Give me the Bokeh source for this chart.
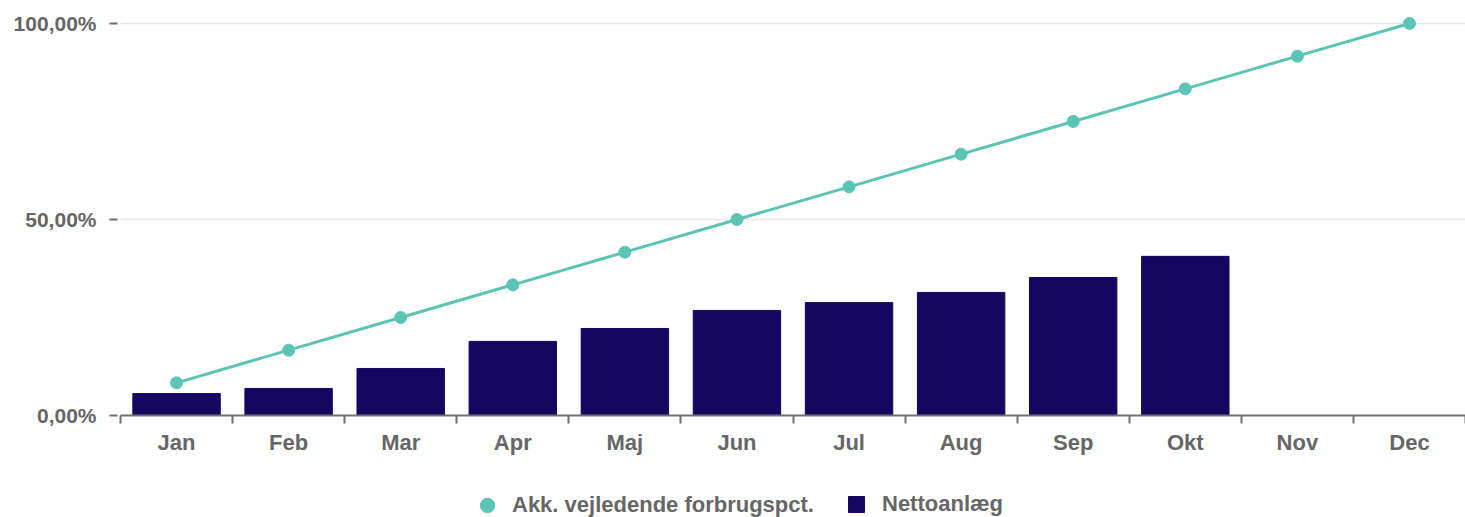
from bokeh.plotting import figure
from bokeh.layouts import column
from bokeh.models import Range1d, FixedTicker, Legend, LegendItem, ColumnDataSource
from bokeh.embed import file_html
from bokeh.resources import INLINE

# ---- data ----
months = ["Jan", "Feb", "Mar", "Apr", "Maj", "Jun", "Jul", "Aug", "Sep", "Okt", "Nov", "Dec"]
akk_pct = [8.33, 16.67, 25.0, 33.33, 41.67, 50.0, 58.33, 66.67, 75.0, 83.33, 91.67, 100.0]
netto = [5.6, 6.9, 12.0, 18.9, 22.2, 26.8, 28.8, 31.4, 35.2, 40.6, None, None]
y_ticks = [0, 50, 100]
y_tick_labels = ["0,00%", "50,00%", "100,00%"]
series_names = ["Akk. vejledende forbrugspct.", "Nettoanlæg"]

FONT = "Liberation Sans"
TXT = "#666666"
LINE_C = "#5cc4b5"
BAR_C = "#15075f"

xpos = [i + 0.5 for i in range(len(months))]
line_src = ColumnDataSource(dict(x=xpos, y=akk_pct))
bx = [x for x, v in zip(xpos, netto) if v is not None]
bv = [v for v in netto if v is not None]
bar_src = ColumnDataSource(dict(x=bx, top=bv))

p = figure(width=1465, height=470, output_backend="svg", toolbar_location=None,
           x_range=Range1d(0, len(months)), y_range=Range1d(0, 102.55),
           min_border_left=120, min_border_right=0, min_border_top=13, min_border_bottom=55)
p.outline_line_color = None
p.background_fill_color = "white"
p.border_fill_color = "white"

bars = p.vbar(x="x", top="top", width=0.78, bottom=0, source=bar_src,
              fill_color=BAR_C, line_color=BAR_C)
ln = p.line(x="x", y="y", source=line_src, line_color=LINE_C, line_width=3)
pts = p.scatter(x="x", y="y", source=line_src, size=12, fill_color=LINE_C, line_color=LINE_C)

# x axis
xa = p.xaxis[0]
xa.ticker = FixedTicker(ticks=xpos, minor_ticks=list(range(len(months) + 1)))
xa.major_label_overrides = {x: m for x, m in zip(xpos, months)}
xa.major_tick_out = 0
xa.major_tick_in = 0
xa.minor_tick_out = 8
xa.minor_tick_in = 0
xa.minor_tick_line_color = "#707070"
xa.minor_tick_line_width = 2
xa.axis_line_color = "#707070"
xa.axis_line_width = 2
xa.major_label_text_font = FONT
xa.major_label_text_font_style = "bold"
xa.major_label_text_font_size = "22px"
xa.major_label_text_color = TXT
xa.major_label_standoff = 6

# y axis
ya = p.yaxis[0]
ya.ticker = FixedTicker(ticks=y_ticks, minor_ticks=[])
ya.major_label_overrides = {t: l for t, l in zip(y_ticks, y_tick_labels)}
ya.axis_line_color = None
ya.major_tick_in = -3
ya.major_tick_out = 11
ya.major_tick_line_color = "#707070"
ya.major_tick_line_width = 2
ya.major_label_text_font = FONT
ya.major_label_text_font_style = "bold"
ya.major_label_text_font_size = "21px"
ya.major_label_text_color = TXT
ya.major_label_standoff = 13

p.xgrid.grid_line_color = None
p.ygrid.ticker = FixedTicker(ticks=y_ticks)
p.ygrid.grid_line_color = "#e6e6e6"
p.ygrid.grid_line_width = 1.5

# ---- legend strip (its frame is aligned with the main frame, starting at x=120) ----
lg = figure(width=1465, height=60, output_backend="svg", toolbar_location=None,
            x_range=Range1d(0, 1), y_range=Range1d(0, 1),
            min_border_left=0, min_border_right=0, min_border_top=0, min_border_bottom=0)
lg.axis.visible = False
lg.grid.visible = False
lg.outline_line_color = None
lg.border_fill_color = "white"
# off-screen proxies, used only for the legend swatches
proxy_pts = lg.scatter(x=[-5], y=[-5], size=12, fill_color=LINE_C, line_color=LINE_C)
proxy_bar = lg.vbar(x=[-5], top=[-4], bottom=[-5], width=0.5, fill_color=BAR_C, line_color=BAR_C)


def style(leg):
    leg.label_text_font = FONT
    leg.label_text_font_style = "bold"
    leg.label_text_font_size = "22px"
    leg.label_text_color = TXT
    leg.border_line_color = None
    leg.background_fill_alpha = 0
    leg.padding = 0
    leg.margin = 0


leg1 = Legend(items=[LegendItem(label=series_names[0], renderers=[proxy_pts])], location=(349, 7))
style(leg1)
leg1.glyph_width = 36
leg1.glyph_height = 36
leg1.label_standoff = 7
leg2 = Legend(items=[LegendItem(label=series_names[1], renderers=[proxy_bar])], location=(726, 13))
style(leg2)
leg2.glyph_width = 20
leg2.glyph_height = 20
leg2.label_standoff = 16
lg.add_layout(leg1, "center")
lg.add_layout(leg2, "center")

open("out.html", "w").write(file_html(column(p, lg, spacing=0), INLINE))
